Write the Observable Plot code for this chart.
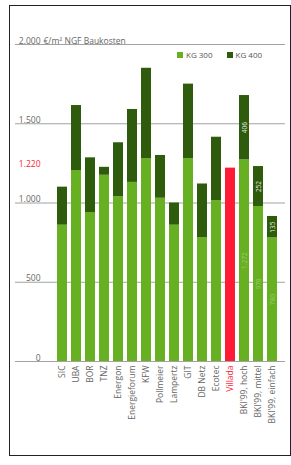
<!DOCTYPE html>
<html><head><meta charset="utf-8">
<script src="https://cdn.jsdelivr.net/npm/d3@7"></script>
<script src="https://cdn.jsdelivr.net/npm/@observablehq/plot@0.6"></script>
<style>
body{margin:0;background:#fff;font-family:"Open Sans",sans-serif;}
#wrap{position:relative;width:291px;height:465px;overflow:hidden;background:#fff}
#wrap svg{position:absolute;left:0;top:0}
#border{position:absolute;left:9px;top:5px;width:280px;height:449px;border:1px solid #222;pointer-events:none}
#legend{position:absolute;top:49px;left:177px;font-size:8px;color:#555;display:flex;align-items:center;white-space:nowrap}
.sw{display:inline-block;width:6px;height:6px;margin-right:3px}
</style></head><body>
<div id="wrap"><div id="border"></div></div>
<script>
const categories = ["SIC","UBA","BOR","TNZ","Energon","Energieforum","KFW","Pollmeier","Lampertz","GIT","DB Netz","Ecotec","Villada","BKI'99, hoch","BKI'99, mittel","BKI'99, einfach"];
const kg300 = [860,1205,940,1175,1040,1130,1280,1030,860,1280,780,1015,1220,1272,978,780];
const kg400 = [240,410,345,50,340,460,570,270,140,470,340,400,0,406,252,135];
const seriesNames = ["KG 300","KG 400"];
const yTicks = [0,500,1000,1500,2000];
const refValue = 1220;
const highlight = "Villada";
const labelled = ["BKI'99, hoch","BKI'99, mittel","BKI'99, einfach"];

const C300 = "#67b021", C400 = "#2f5c0c", RED = "#ff1a35", GRID = "#8a8a8a", TXT = "#666";
const fmt = d => d.toLocaleString("de-DE");

const rows = [];
categories.forEach((c,i) => {
  rows.push({cat:c, s:seriesNames[0], v:kg300[i]});
  rows.push({cat:c, s:seriesNames[1], v:kg400[i]});
});
const lab = [];
categories.forEach((c,i) => {
  if (!labelled.includes(c)) return;
  lab.push({cat:c, y:kg300[i]/2, t:fmt(kg300[i]), o:0.35});
  lab.push({cat:c, y:kg300[i]+kg400[i]/2, t:fmt(kg400[i]), o:0.9});
});

const chart = Plot.plot({
  width: 291, height: 465,
  marginLeft: 15, marginRight: 6, marginTop: 44, marginBottom: 104,
  style: {fontFamily: "'Open Sans', sans-serif", background: "transparent"},
  x: {domain: categories, paddingInner: 0.3, paddingOuter: 0, insetLeft: 36, insetRight: 2, axis: null},
  y: {domain: [0, 2000], axis: null},
  color: {type: "identity"},
  marks: [
    Plot.ruleY(yTicks, {stroke: GRID, strokeWidth: 0.8}),
    Plot.ruleY([refValue], {x2: highlight, stroke: RED, strokeWidth: 1}),
    Plot.barY(rows, Plot.stackY({x: "cat", y: "v", fill: d => d.cat === highlight ? RED : (d.s === seriesNames[0] ? C300 : C400)})),
    Plot.text(lab, {x: "cat", y: "y", text: "t", rotate: -90, fill: "white", fillOpacity: "o", fontSize: 6.5}),
    Plot.text(yTicks, {y: d => d, text: d => fmt(d), frameAnchor: "left", textAnchor: "end", lineAnchor: "bottom", dx: 25, dy: -1, fontSize: 8.5, fill: TXT}),
    Plot.text([2000], {y: d => d, text: () => "€/m² NGF Baukosten", frameAnchor: "left", textAnchor: "start", lineAnchor: "bottom", dx: 28, dy: -1, fontSize: 8.5, fill: TXT}),
    Plot.text([refValue], {y: d => d, text: d => fmt(d), frameAnchor: "left", textAnchor: "end", lineAnchor: "bottom", dx: 25, dy: -1, fontSize: 8.5, fill: RED}),
    Plot.axisX({ticks: categories.filter(c => c !== highlight), tickSize: 0, tickPadding: 4, tickRotate: -90, fontSize: 8.5, fill: TXT}),
    Plot.axisX({ticks: [highlight], tickSize: 0, tickPadding: 4, tickRotate: -90, fontSize: 8.5, fill: RED})
  ]
});
const wrap = document.getElementById("wrap");
wrap.insertBefore(chart, wrap.firstChild);

const legend = document.createElement("div");
legend.id = "legend";
legend.innerHTML = `<span class="sw" style="background:${C300}"></span><span>${seriesNames[0]}</span><span style="display:inline-block;width:14px"></span><span class="sw" style="background:${C400}"></span><span>${seriesNames[1]}</span>`;
wrap.appendChild(legend);
</script>
</body></html>
